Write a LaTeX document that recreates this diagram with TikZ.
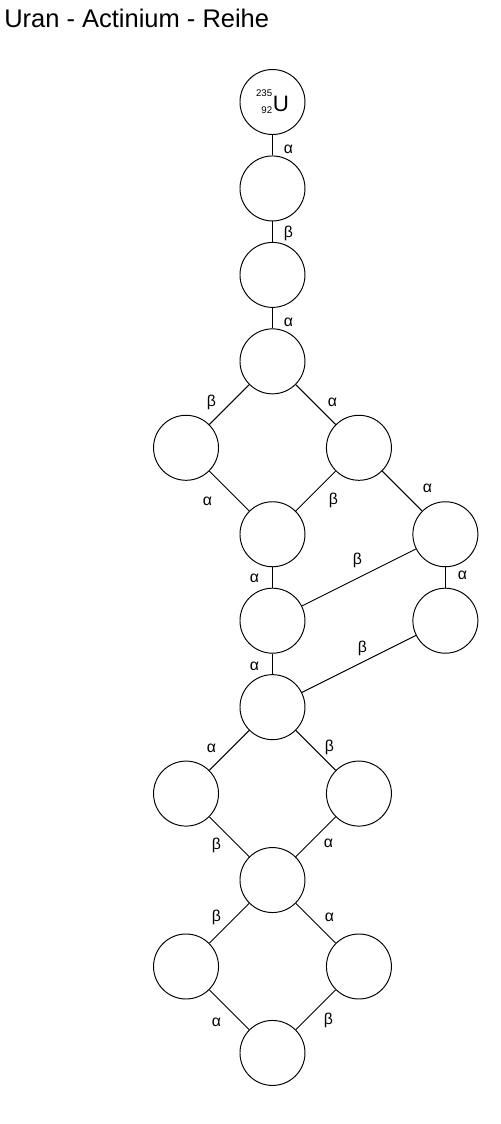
\documentclass[tikz,border=0pt]{standalone}
\usepackage{fontspec}
\setmainfont{Liberation Sans}
\usetikzlibrary{positioning}
\tikzset{
  nuc/.style={draw, circle, line width=0.55pt, minimum size=1.3cm, inner sep=0pt},
  decay/.style={line width=0.55pt},
  lbl/.style={inner sep=0pt, font=\fontsize{9}{10.8}\selectfont},
  heading/.style={anchor=base west, inner sep=0pt, font=\fontsize{14.5}{17}\selectfont}
}
\newcommand{\nuclide}[3]{%
  \raisebox{-1.1pt}{\fontsize{5.5}{9.6}\selectfont\begin{tabular}[b]{@{}r@{}}#1\\#2\end{tabular}}%
  \kern0.3pt{\fontsize{12.7}{15}\selectfont #3}}

\begin{document}
\begin{tikzpicture}[x=1.729cm,y=-1.729cm]
    \useasboundingbox (-3.152,-1.180) rectangle (2.632,11.822);
    \node[heading] (title) at (-3.106,-0.862) {Uran - Actinium - Reihe};
    % chain members
    \node[nuc] (u235) at (0,0) {\nuclide{235}{92}{U}};
    \foreach \n/\c in {k1/{(0,1)}, k2/{(0,2)}, k3/{(0,3)}, k4/{(-1,4)}, k5/{(1,4)},
                       k6/{(0,5)}, k7/{(2,5)}, k8/{(0,6)}, k9/{(2,6)}, k10/{(0,7)},
                       k11/{(-1,8)}, k12/{(1,8)}, k13/{(0,9)}, k14/{(-1,10)},
                       k15/{(1,10)}, k16/{(0,11)}}
        \node[nuc] (\n) at \c {};
    % decays
    \foreach \a/\b/\t/\l in {
        u235/k1/α/{(0.185,0.544)},   k1/k2/β/{(0.185,1.515)},
        k2/k3/α/{(0.185,2.545)},     k3/k4/β/{(-0.706,3.470)},
        k3/k5/α/{(0.694,3.470)},     k4/k6/α/{(-0.752,4.615)},
        k5/k6/β/{(0.706,4.604)},     k5/k7/α/{(1.793,4.465)},
        k6/k8/α/{(-0.208,5.506)},    k7/k8/β/{(0.983,5.298)},
        k7/k9/α/{(2.198,5.471)},     k8/k10/α/{(-0.208,6.524)},
        k9/k10/β/{(1.041,6.316)},    k10/k11/α/{(-0.706,7.473)},
        k10/k12/β/{(0.659,7.462)},   k11/k13/β/{(-0.648,8.595)},
        k12/k13/α/{(0.648,8.572)},   k13/k14/β/{(-0.648,9.427)},
        k13/k15/α/{(0.659,9.427)},   k14/k16/α/{(-0.648,10.642)},
        k15/k16/β/{(0.648,10.619)}}
        \draw[decay] (\a) -- (\b) node[lbl] at \l {\t};
\end{tikzpicture}
\end{document}
